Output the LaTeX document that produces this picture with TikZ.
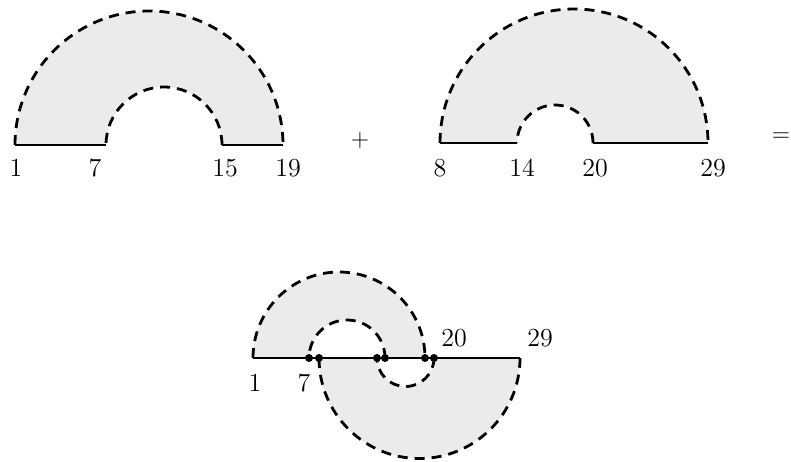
\documentclass[tikz,border=0pt]{standalone}
\usepackage{amsmath}
\usepackage{xcolor}
\usepackage{tikz}
\usetikzlibrary{positioning}

\begin{document}
\begin{tikzpicture}[x=0.5pt, y=0.5pt,
  bound/.style={line width=1.4pt, dash pattern=on 5pt off 3.5pt},
  base/.style={line width=1pt},
  shade/.style={fill=gray!16},
  lbl/.style={font=\fontsize{13}{15}\selectfont, inner sep=0pt},
  pt/.style={circle, fill=black, inner sep=0pt, minimum size=4pt}]
 \useasboundingbox (0,0) rectangle (791,-461);
 % first arc system: 1 7 15 19
 \fill[shade] (15,-145) arc[start angle=180, end angle=0, radius=134] -- (222,-145) arc[start angle=0, end angle=180, radius=58] -- cycle;
 \draw[bound] (15,-145) arc[start angle=180, end angle=0, radius=134];
 \draw[bound] (222,-145) arc[start angle=0, end angle=180, radius=58];
 \draw[base] (15,-145) -- (106,-145);
 \draw[base] (222,-145) -- (283,-145);
 \node[lbl] (a1) at (16,-168) {1};
 \node[lbl] (a7) at (95,-168) {7};
 \node[lbl] (a15) at (225,-168) {15};
 \node[lbl] (a19) at (288,-168) {19};
 \node[lbl] (plus) at (360,-140) {$+$};
 % second arc system: 8 14 20 29
 \fill[shade] (440,-143) arc[start angle=180, end angle=0, radius=134] -- (593,-143) arc[start angle=0, end angle=180, radius=38] -- cycle;
 \draw[bound] (440,-143) arc[start angle=180, end angle=0, radius=134];
 \draw[bound] (593,-143) arc[start angle=0, end angle=180, radius=38];
 \draw[base] (440,-143) -- (517,-143);
 \draw[base] (593,-143) -- (708,-143);
 \node[lbl] (b8) at (440,-168) {8};
 \node[lbl] (b14) at (522,-168) {14};
 \node[lbl] (b20) at (595,-168) {20};
 \node[lbl] (b29) at (713,-168) {29};
 \node[lbl] (eq) at (781,-137) {$=$};
 % sum: upper half 1..19, lower half 8..29
 \fill[shade] (253,-358) arc[start angle=180, end angle=0, radius=86] -- (385,-358) arc[start angle=0, end angle=180, radius=38] -- cycle;
 \fill[shade] (319,-358) arc[start angle=180, end angle=360, radius=100.5] -- (434,-358) arc[start angle=0, end angle=-180, radius=28.5] -- cycle;
 \draw[bound] (253,-358) arc[start angle=180, end angle=0, radius=86];
 \draw[bound] (385,-358) arc[start angle=0, end angle=180, radius=38];
 \draw[bound] (319,-358) arc[start angle=180, end angle=360, radius=100.5];
 \draw[bound] (434,-358) arc[start angle=0, end angle=-180, radius=28.5];
 \coordinate (s1) at (253,-358);
 \coordinate (s29) at (520,-358);
 \draw[base] (s1) -- (s29);
 \foreach \x/\n in {309/7, 319/8, 377/14, 385/15, 425/19, 434/20}
   \node[pt] (d\n) at (\x,-358) {};
 \node[lbl] (c1) at (255,-383) {1};
 \node[lbl] (c7) at (304,-383) {7};
 \node[lbl] (c20) at (454,-338) {20};
 \node[lbl] (c29) at (540,-338) {29};
\end{tikzpicture}
\end{document}
